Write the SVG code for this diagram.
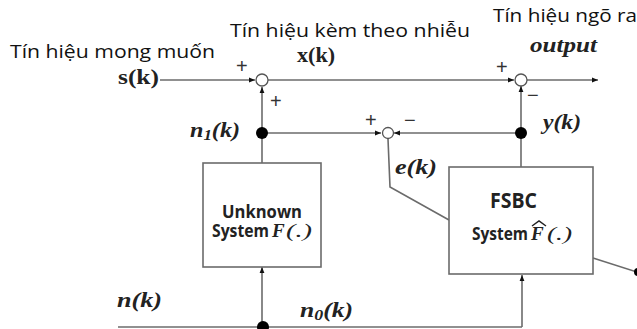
<svg xmlns="http://www.w3.org/2000/svg" width="637" height="329" viewBox="0 0 637 329">
<defs>
<marker id="ah" viewBox="0 0 10 10" refX="10" refY="5" markerWidth="6" markerHeight="6" orient="auto" markerUnits="userSpaceOnUse">
<path d="M0,1 L10,5 L0,9 Z" fill="#111"/>
</marker>
</defs>
<style>
.ln{fill:none;stroke:#6b6b6b;stroke-width:1.6}
.box{fill:#fff;stroke:#6b6b6b;stroke-width:1.6}
.sum{fill:#fff;stroke:#555;stroke-width:1.3}
.dot{fill:#000}
.vn{font-family:"Open Sans","Liberation Sans",sans-serif;font-size:18px;fill:#111}
.m{font-family:"Liberation Serif","DejaVu Serif",serif;font-weight:bold;font-size:20px;fill:#222}
.mi{font-family:"Liberation Serif","DejaVu Serif",serif;font-weight:bold;font-style:italic;fill:#222}
.sg{font-family:"Liberation Sans",sans-serif;font-size:20px;fill:#333}
.bx{font-family:"Open Sans","Liberation Sans",sans-serif;font-weight:bold;fill:#222}
</style>
<rect width="637" height="329" fill="#fff"/>
<g id="connectors">
<line class="ln" x1="160" y1="80" x2="255" y2="80" marker-end="url(#ah)"/>
<line class="ln" x1="268" y1="80" x2="514" y2="80" marker-end="url(#ah)"/>
<line class="ln" x1="527" y1="80" x2="598" y2="80" marker-end="url(#ah)"/>
<line class="ln" x1="262" y1="163" x2="262" y2="87" marker-end="url(#ah)"/>
<line class="ln" x1="262" y1="133" x2="381" y2="133" marker-end="url(#ah)"/>
<line class="ln" x1="521" y1="133" x2="394" y2="133" marker-end="url(#ah)"/>
<line class="ln" x1="521" y1="167" x2="521" y2="86" marker-end="url(#ah)"/>
<polyline class="ln" points="388,139 390,187 449,220"/>
<line class="ln" x1="118" y1="327" x2="522" y2="327"/>
<line class="ln" x1="262" y1="327" x2="262" y2="267" marker-end="url(#ah)"/>
<line class="ln" x1="522" y1="327" x2="522" y2="275" marker-end="url(#ah)"/>
<line class="ln" x1="593" y1="258" x2="637" y2="272"/>
</g>
<g id="sum1"><circle class="sum" cx="262" cy="80" r="6"/></g>
<g id="sum2"><circle class="sum" cx="521" cy="80" r="6"/></g>
<g id="sum3"><circle class="sum" cx="388" cy="133" r="5.5"/></g>
<g id="dots">
<circle class="dot" cx="262" cy="133" r="6"/>
<circle class="dot" cx="521" cy="133" r="6"/>
<circle class="dot" cx="263" cy="327" r="6"/>
<circle class="dot" cx="638" cy="272" r="4"/>
</g>
<g id="unknown">
<rect class="box" x="203" y="163" width="118" height="104"/>
<text class="bx" x="222" y="218" style="font-size:17px" textLength="80" lengthAdjust="spacingAndGlyphs">Unknown</text>
<text class="bx" x="212" y="237" style="font-size:17px" textLength="57" lengthAdjust="spacingAndGlyphs">System</text>
<text class="mi" x="272" y="237" style="font-size:19px">F</text>
<text class="mi" x="286" y="237" style="font-size:19px;font-weight:normal" textLength="26" lengthAdjust="spacingAndGlyphs">(.)</text>
</g>
<g id="fsbc">
<rect class="box" x="449" y="167" width="144" height="107"/>
<text class="bx" x="490" y="208" style="font-size:21px" textLength="47" lengthAdjust="spacingAndGlyphs">FSBC</text>
<text class="bx" x="472" y="240" style="font-size:17px" textLength="56" lengthAdjust="spacingAndGlyphs">System</text>
<text class="mi" x="531" y="240" style="font-size:19px">F</text>
<path d="M532,226 L539,221 L546,226" fill="none" stroke="#222" stroke-width="1.5"/>
<text class="mi" x="547" y="240" style="font-size:19px;font-weight:normal" textLength="25" lengthAdjust="spacingAndGlyphs">(.)</text>
</g>
<g id="labels">
<text class="vn" x="10" y="58" textLength="205" lengthAdjust="spacingAndGlyphs">Tín hiệu mong muốn</text>
<text class="vn" x="230" y="37" textLength="240" lengthAdjust="spacingAndGlyphs">Tín hiệu kèm theo nhiễu</text>
<text class="vn" x="493" y="22" textLength="144" lengthAdjust="spacingAndGlyphs">Tín hiệu ngõ ra</text>
<text class="m" x="118" y="84" textLength="41" lengthAdjust="spacingAndGlyphs">s(k)</text>
<text class="m" x="297" y="62" textLength="38" lengthAdjust="spacingAndGlyphs">x(k)</text>
<text class="mi" x="530" y="52" style="font-size:20px" textLength="67" lengthAdjust="spacingAndGlyphs">output</text>
<text class="mi" x="543" y="129" style="font-size:20px" textLength="38" lengthAdjust="spacingAndGlyphs">y(k)</text>
<text class="mi" x="190" y="137" style="font-size:20px" textLength="50" lengthAdjust="spacingAndGlyphs">n<tspan style="font-size:14px" dy="3">1</tspan><tspan dy="-3">(k)</tspan></text>
<text class="mi" x="395" y="174" style="font-size:20px" textLength="42" lengthAdjust="spacingAndGlyphs">e(k)</text>
<text class="mi" x="117" y="307" style="font-size:20px" textLength="45" lengthAdjust="spacingAndGlyphs">n(k)</text>
<text class="mi" x="300" y="317" style="font-size:20px" textLength="53" lengthAdjust="spacingAndGlyphs">n<tspan style="font-size:14px" dy="3">0</tspan><tspan dy="-3">(k)</tspan></text>
<text class="sg" x="236" y="73">+</text>
<text class="sg" x="270" y="108">+</text>
<text class="sg" x="496" y="74">+</text>
<text class="sg" x="527" y="102">−</text>
<text class="sg" x="365" y="127">+</text>
<text class="sg" x="404" y="127">−</text>
</g>
</svg>
